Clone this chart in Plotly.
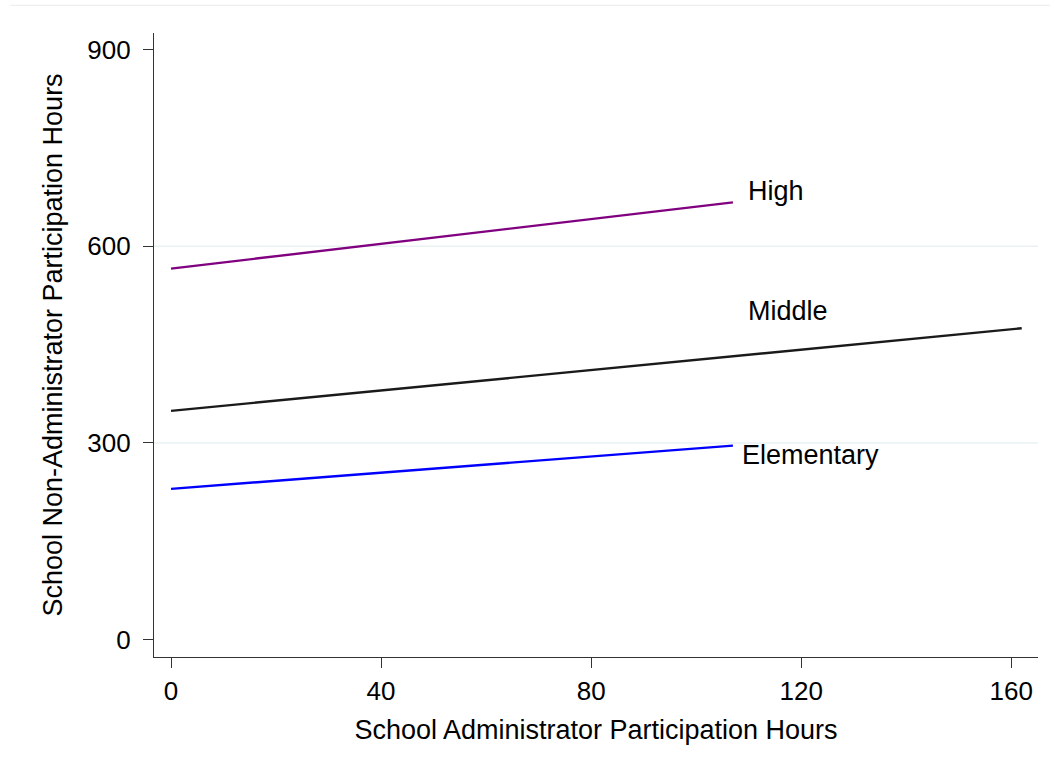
import plotly.graph_objects as go

# Data (fitted lines by school level)
levels = ["High", "Middle", "Elementary"]
x_start = [0, 0, 0]
x_end = [107, 162, 107]
y_start = [566, 349, 230]
y_end = [667, 475, 296]
colors = ["#800080", "#1a1a1a", "#0000ff"]

x_ticks = [0, 40, 80, 120, 160]
y_ticks = [0, 300, 600, 900]
grid_vals = [300, 600]

# label anchor points (data coords)
label_x = [109.5, 109.5, 108.4]
label_y = [684, 502, 282]

FONT = "Arial, Liberation Sans, Helvetica, sans-serif"
FS = 27
TFS = 26

fig = go.Figure()
for i, lev in enumerate(levels):
    fig.add_trace(go.Scatter(
        x=[x_start[i], x_end[i]], y=[y_start[i], y_end[i]],
        mode="lines", line=dict(color=colors[i], width=2.4),
        name=lev, showlegend=False, hoverinfo="skip"))
    fig.add_annotation(x=label_x[i], y=label_y[i], text=lev, showarrow=False,
                       xanchor="left", yanchor="middle",
                       font=dict(size=FS, color="black", family=FONT))

shapes = []
for g in grid_vals:
    shapes.append(dict(type="line", xref="paper", yref="y", x0=0, x1=1, y0=g, y1=g,
                       line=dict(color="#eaf1f3", width=1.5), layer="below"))
# faint outer frame line at top
shapes.append(dict(type="line", xref="paper", yref="paper", x0=-0.1625, x1=1.0137,
                   y0=1.0444, y1=1.0444, line=dict(color="#eeeeee", width=1.2)))

fig.update_layout(
    width=1055, height=769,
    margin=dict(l=154, r=17, t=33, b=112, pad=0),
    paper_bgcolor="white", plot_bgcolor="white",
    font=dict(family=FONT, size=FS, color="black"),
    shapes=shapes,
    xaxis=dict(
        range=[-3.24, 165.1], tickvals=x_ticks, ticktext=[str(v) for v in x_ticks],
        showgrid=False, zeroline=False, showline=True, linecolor="#333333", linewidth=1.2,
        ticks="outside", ticklen=10, tickwidth=1.2, tickcolor="#333333",
        tickfont=dict(size=TFS), ticklabelstandoff=1,
        title=dict(text="School Administrator Participation Hours", font=dict(size=FS), standoff=14),
    ),
    yaxis=dict(
        range=[-26.5, 925.4], tickvals=y_ticks, ticktext=[str(v) for v in y_ticks],
        showgrid=False, zeroline=False, showline=True, linecolor="#333333", linewidth=1.2,
        ticks="outside", ticklen=10, tickwidth=1.2, tickcolor="#333333",
        tickfont=dict(size=TFS), ticklabelstandoff=7,
        title=dict(text="School Non-Administrator Participation Hours", font=dict(size=FS), standoff=16),
    ),
)

fig.write_html("out.html", config={"displayModeBar": False},
               post_script="document.body.style.margin='0';document.body.style.overflow='hidden';")
